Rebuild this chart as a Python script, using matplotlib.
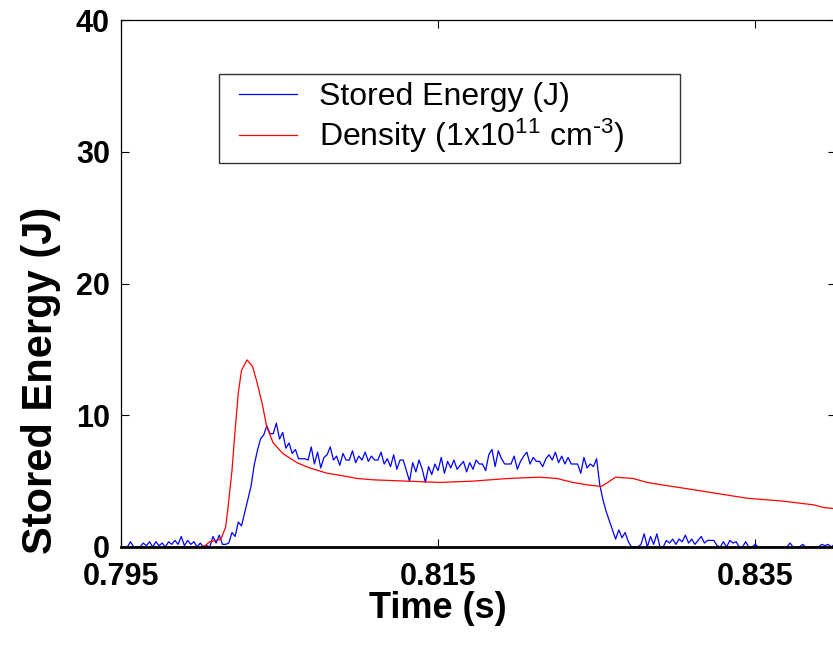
import numpy as np
import matplotlib
matplotlib.use('Agg')
import matplotlib.pyplot as plt
from matplotlib.lines import Line2D
from matplotlib.legend_handler import HandlerLine2D

plt.rcParams['font.family'] = ['Liberation Sans', 'DejaVu Sans']
plt.rcParams['mathtext.default'] = 'regular'

# stored energy (J), sampled every 0.2 ms from 0.795 s
energy_t0 = 0.795
energy_dt = 0.0002
energy = [0, 0, 0, 0.4, 0, 0, 0, 0.3, 0.1, 0.4, 0, 0.4, 0.1, 0.3, 0, 0.4, 0.2, 0.5, 0.2, 0.8,
          0.1, 0.5, 0.2, 0.4, 0, 0.3, 0, 0.1, 0,
          0.8, 0.3, 0.9, 0.2, 0.2, 0.3, 1.1, 0.8, 1.9, 1.6, 2.6, 3.6, 4.6, 6.2, 7.3,
          8.2, 8.5, 9.2, 8.6, 8.6, 9.4, 8.2, 8.7, 7.5, 7.9, 7.1, 7.4, 6.7, 6.7, 6.7,
          6.6, 7.6, 6.3, 7.2, 6.0, 6.8, 7.0, 7.6, 6.6, 6.9,
          6.2, 7.1, 6.6, 6.6, 7.3, 6.4, 6.9, 6.6, 7.2, 6.5,
          6.9, 6.6, 6.6, 7.2, 6.3, 6.7, 6.1, 7.0, 5.9, 6.6,
          6.6, 5.8, 5.0, 6.4, 5.7, 6.6, 5.9, 4.9, 6.1, 5.5,
          6.3, 5.8, 6.8, 5.6, 6.5, 6.0, 6.6, 5.9, 6.2, 6.5,
          5.7, 6.4, 5.9, 6.6, 6.3, 6.3, 5.8, 7.0, 7.4, 6.1,
          7.3, 6.7, 6.3, 6.3, 6.3, 6.9, 5.9, 6.5, 6.9, 7.2,
          6.3, 6.8, 6.5, 6.5, 6.1, 6.7, 7.0, 6.6, 7.2, 6.4,
          6.9, 6.3, 6.8, 6.3, 6.3, 6.3, 5.6, 6.8, 6.0, 6.3,
          6.1, 6.7,
          4.7, 3.6, 2.7, 2.0, 1.3, 0.6, 1.3, 0.7, 1.1, 0.4, 0.0, 0.0, 0.0,
          0.2, 1.0, 0.0, 0.8, 0.2, 1.0, 0.0, 0.0, 0.5, 0.3, 0.6, 0.2, 0.6, 0.4, 0.9,
          0.3, 0.6, 0.2, 0.5, 0.8, 0.3, 0.5, 0.5, 0.5, 0.1, 0.0, 0.4, 0.0, 0.5, 0.3,
          0.4, 0.0, 0.0, 0.4, 0.0, 0.0, 0.2,
          0, 0, 0, 0, 0, 0, 0, 0, 0, 0, 0.3, 0, 0, 0, 0.2, 0, 0, 0, 0, 0, 0.2, 0.1, 0.2, 0, 0.2]
energy_time = energy_t0 + energy_dt * np.arange(len(energy))

# density (1e11 cm^-3)
density_time = [0.7980, 0.8000, 0.8003, 0.8006, 0.8010, 0.8013, 0.8016, 0.80175, 0.8020,
                0.8022, 0.8024, 0.8026, 0.80295, 0.8033, 0.8036, 0.8039, 0.8042, 0.8046,
                0.8052, 0.8061, 0.8069, 0.8080, 0.8090, 0.8099, 0.8109, 0.8130, 0.8151,
                0.8172, 0.8194, 0.8214, 0.8225, 0.8235, 0.8245, 0.8253, 0.8257, 0.8262,
                0.8273, 0.8282, 0.8292, 0.8303, 0.8324, 0.8345, 0.8366, 0.8387, 0.8393,
                0.8401]
density = [0, 0, 0.1, 0.4, 0.5, 0.6, 1.5, 3.0, 5.8,
           8.9, 11.7, 13.4, 14.2, 13.7, 12.4, 10.9, 9.1, 7.9,
           7.1, 6.4, 6.0, 5.6, 5.4, 5.2, 5.1, 5.0, 4.9,
           5.0, 5.2, 5.3, 5.2, 4.9, 4.7, 4.6, 4.9, 5.3,
           5.2, 4.9, 4.7, 4.5, 4.1, 3.7, 3.5, 3.2, 3.0,
           2.9]

xticks = [0.795, 0.815, 0.835]
yticks = [0, 10, 20, 30, 40]

fig = plt.figure(figsize=(8.33, 6.53), dpi=100)
ax = fig.add_axes([121/833, 1 - 547/653, 715/833, 527/653])

ax.plot(energy_time, energy, color=(0, 0, 1), lw=0.9, label='Stored Energy (J)')
ax.plot(density_time, density, color=(1, 0, 0), lw=0.9,
        label=r'Density (1x10$^{11}$ cm$^{\text{-}3}$)')

ax.set_xlim(0.795, 0.8401)
ax.set_ylim(0, 40)
ax.set_xticks(xticks)
ax.set_xticklabels(['%.3f' % v for v in xticks])
ax.set_yticks(yticks)
ax.tick_params(direction='in', length=5.5, width=0.8, top=True, right=True,
               labelsize=22, colors='black')
ax.tick_params(axis='x', pad=11)
ax.tick_params(axis='y', pad=8)
for lab in ax.get_xticklabels() + ax.get_yticklabels():
    lab.set_fontweight('bold')
for s in ax.spines.values():
    s.set_linewidth(0.9)
ax.spines['bottom'].set_linewidth(2.0)

leg = ax.legend(loc='upper left', bbox_to_anchor=(0.1371, 0.5, 0.6448, 0.3975),
                mode='expand', borderaxespad=0, fontsize=23, handlelength=2.19,
                handletextpad=0.69, borderpad=0.25, labelspacing=0.15, fancybox=False,
                handler_map={Line2D: HandlerLine2D(xpad=0.375)})
leg.get_frame().set_edgecolor('black')
leg.get_frame().set_linewidth(1.0)

fig.text(41/833, 1 - 380/653, 'Stored Energy (J)', rotation=90, ha='center', va='center',
         fontsize=30, fontweight='bold')
fig.text(438/833, 1 - 618/653, 'Time (s)', ha='center', va='baseline',
         fontsize=26, fontweight='bold')

fig.savefig('out.png', dpi=100)
